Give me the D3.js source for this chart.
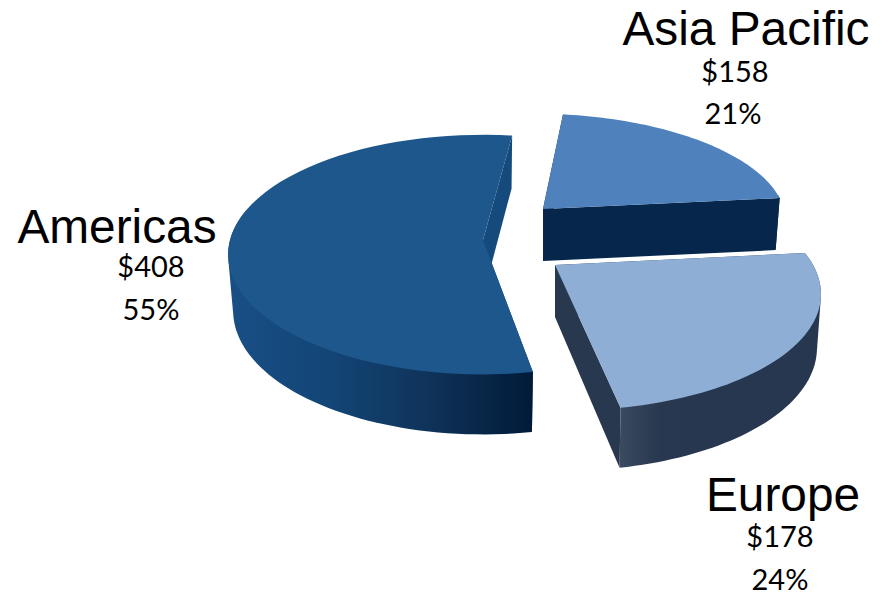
<!DOCTYPE html>
<html>
<head>
<meta charset="utf-8">
<style>
  html, body { margin: 0; padding: 0; background: #fff; overflow: hidden; }
</style>
<script src="https://cdn.jsdelivr.net/npm/d3@7/dist/d3.min.js"></script>
</head>
<body>
<div id="chart"></div>
<script>
// --- DATA ---
const regions = ["Americas", "Asia Pacific", "Europe"];
const amounts = [408, 158, 178];

const width = 890;
const height = 594;

// --- SLICE GEOMETRY ---
// every slice has its own fake perspective, the source chart is a 3D one
const shapes = {
    "Americas": { cx: 483, cy: 240, rx: 253, ry: 118, p: 0.122, shear: 0, depth: 56, kx: 0.98, ky: 0.03 },
    "Asia Pacific": { cx: 543, cy: 209, rx: 241, ry: 103, p: 0.08, shear: 0.086, depth: 52, kx: 0.983, ky: 0 },
    "Europe": { cx: 555, cy: 265, rx: 258, ry: 115, p: 0.21, shear: 0.08, depth: 52, kx: 0.985, ky: 0.056 }
};

const colors = {
    "Americas": { top: "#1d578c", radial: "#154a7c", wall: ["#184f85", "#134576", "#0f3259", "#011a38"] },
    "Asia Pacific": { top: "#4f81bd", radial: "#07264b", wall: ["#07264b", "#07264b"] },
    "Europe": { top: "#8eaed6", radial: "#27384f", wall: ["#3a4b60", "#27384f", "#26374f", "#26374f", "#26374f", "#26374f"] }
};

const labelSpots = {
    "Americas": { name: [117, 243], amount: [151, 277], share: [151, 320] },
    "Asia Pacific": { name: [746, 45], amount: [735, 82], share: [733, 124] },
    "Europe": { name: [783, 511], amount: [780, 547], share: [780, 590] }
};

// outer wall only shows on the front of the pie
const wallFrom = 82 * Math.PI / 180;
const wallTo = 285 * Math.PI / 180;
const fullTurn = 2 * Math.PI;

const svg = d3.select("#chart")
    .append("svg")
    .attr("width", width)
    .attr("height", height);

const defs = svg.append("defs");

const total = d3.sum(amounts);
const shareFormat = d3.format(".0%");

const pie = d3.pie()
    .sort(null)
    .startAngle(170 * Math.PI / 180)
    .endAngle((170 + 360) * Math.PI / 180);

const slices = pie(amounts).map((d, i) => ({ ...d, region: regions[i] }));

// angle (clockwise from top) and radius to the top face
function topPoint(s, t, r) {
    const u = Math.sin(t) * r;
    const v = -Math.cos(t) * r;
    const k = 1 / (1 - s.p * v);
    return [s.cx + s.rx * u * k + s.shear * v * s.ry, s.cy + s.ry * v * k];
}

// same point on the base of the slice
function basePoint(s, t, r) {
    const [x, y] = topPoint(s, t, r);
    return [s.cx + (x - s.cx) * s.kx, y + s.depth + (y - s.cy) * s.ky];
}

const line = d3.line();
const angleSteps = (a, b) => d3.range(0, 61).map(i => a + (b - a) * i / 60);

// --- RENDER ---
const groups = svg.selectAll("g.slice")
    .data(slices)
    .join("g")
    .attr("class", "slice");

groups.each(function (d) {
    const s = shapes[d.region];
    const c = colors[d.region];
    const g = d3.select(this);

    // radial walls
    [d.startAngle, d.endAngle].forEach(t => {
        g.append("path")
            .attr("d", line([topPoint(s, t, 0), topPoint(s, t, 1), basePoint(s, t, 1), basePoint(s, t, 0)]) + "Z")
            .attr("fill", c.radial);
    });

    // outer wall, slices past the full turn wrap back to the front
    const turn = d.startAngle >= fullTurn ? fullTurn : 0;
    const a = Math.max(d.startAngle - turn, wallFrom);
    const b = Math.min(d.endAngle - turn, wallTo);
    if (b > a) {
        const steps = angleSteps(a, b);
        // hull closes the silhouette between the top and base edges
        const band = d3.polygonHull(steps.map(t => topPoint(s, t, 1)).concat(steps.map(t => basePoint(s, t, 1))));
        const xs = band.map(p => p[0]);
        const gradId = "wall-" + d.index;
        const stops = d3.scaleLinear().domain([0, c.wall.length - 1]).range([0, 100]);
        defs.append("linearGradient")
            .attr("id", gradId)
            .attr("gradientUnits", "userSpaceOnUse")
            .attr("x1", d3.min(xs)).attr("x2", d3.max(xs))
            .attr("y1", 0).attr("y2", 0)
            .selectAll("stop")
            .data(c.wall)
            .join("stop")
            .attr("offset", (_, i) => stops(i) + "%")
            .attr("stop-color", v => v);

        g.append("path")
            .attr("d", line(band) + "Z")
            .attr("fill", `url(#${gradId})`);
    }

    // top face
    const faceArc = angleSteps(d.startAngle, d.endAngle).map(t => topPoint(s, t, 1));
    g.append("path")
        .attr("d", line([topPoint(s, d.startAngle, 0)].concat(faceArc)) + "Z")
        .attr("fill", c.top);
});

// --- LABELS ---
const labels = svg.append("g")
    .selectAll("g")
    .data(slices)
    .join("g")
    .attr("text-anchor", "middle")
    .attr("fill", "#000");

labels.append("text")
    .attr("x", d => labelSpots[d.region].name[0])
    .attr("y", d => labelSpots[d.region].name[1])
    .attr("font-family", "'Liberation Sans', Arial, sans-serif")
    .attr("font-size", 47.8)
    .text(d => d.region);

labels.append("text")
    .attr("x", d => labelSpots[d.region].amount[0])
    .attr("y", d => labelSpots[d.region].amount[1])
    .attr("font-family", "Lato, sans-serif")
    .attr("font-size", 29)
    .text(d => "$" + d.value);

labels.append("text")
    .attr("x", d => labelSpots[d.region].share[0])
    .attr("y", d => labelSpots[d.region].share[1])
    .attr("font-family", "Lato, sans-serif")
    .attr("font-size", 29)
    .text(d => shareFormat(d.value / total));
</script>
</body>
</html>
